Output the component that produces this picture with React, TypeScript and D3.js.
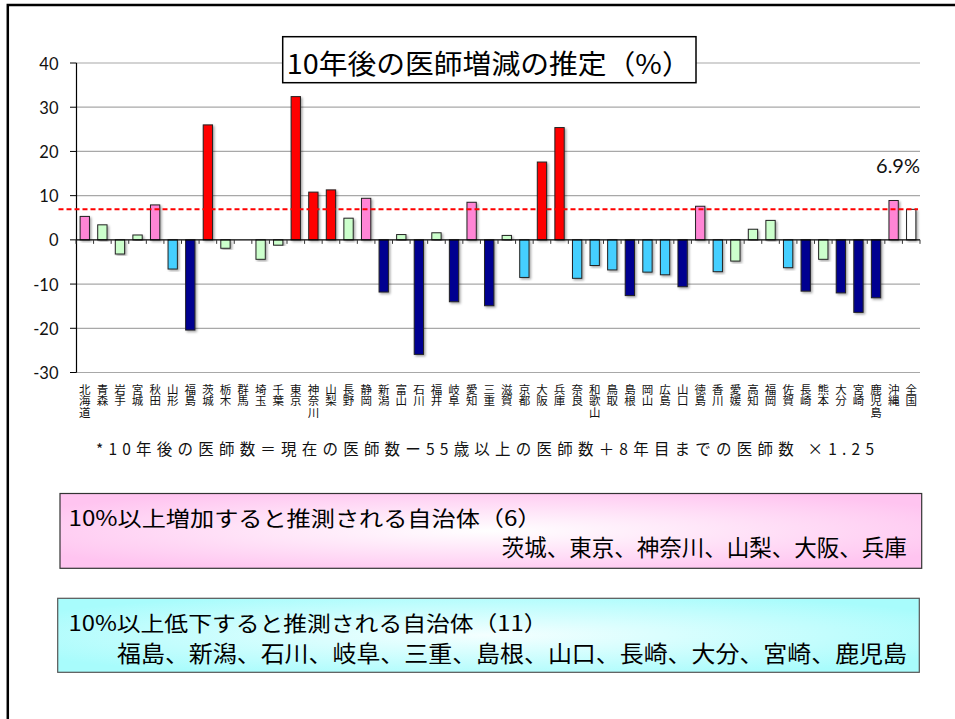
import React from "react";
import * as d3 from "d3";

const prefectures = ["北海道","青森","岩手","宮城","秋田","山形","福島","茨城","栃木","群馬","埼玉","千葉","東京","神奈川","山梨","長野","静岡","新潟","富山","石川","福井","岐阜","愛知","三重","滋賀","京都","大阪","兵庫","奈良","和歌山","鳥取","島根","岡山","広島","山口","徳島","香川","愛媛","高知","福岡","佐賀","長崎","熊本","大分","宮崎","鹿児島","沖縄","全国"];
const changeRates = [5.3,3.4,-3.2,1.1,7.9,-6.6,-20.4,26.0,-1.9,0,-4.4,-1.2,32.4,10.8,11.3,4.9,9.4,-11.8,1.2,-25.9,1.6,-14.0,8.5,-14.9,1.0,-8.5,17.6,25.4,-8.7,-5.8,-6.8,-12.6,-7.3,-7.9,-10.6,7.6,-7.2,-4.8,2.4,4.4,-6.3,-11.6,-4.4,-12.0,-16.4,-13.1,8.9,6.9];
const yTicks = [-30,-20,-10,0,10,20,30,40];
const nationalAverage = 6.9;
const nationalLabel = "6.9%";
const chartTitle = "10年後の医師増減の推定（%）";
const footnote = "*10年後の医師数＝現在の医師数ー55歳以上の医師数＋8年目までの医師数 ×1.25";
const increaseHeader = "10%以上増加すると推測される自治体（6）";
const increaseList = "茨城、東京、神奈川、山梨、大阪、兵庫";
const decreaseHeader = "10%以上低下すると推測される自治体（11）";
const decreaseList = "福島、新潟、石川、岐阜、三重、島根、山口、長崎、大分、宮崎、鹿児島";

const CJK = "'Noto Sans CJK JP', 'Noto Sans', sans-serif";
const LATIN = "Lato, 'Noto Sans', sans-serif";

function barColor(v: number, i: number) {
  if (i === prefectures.length - 1) return "#FFFFFF";
  if (v >= 10) return "#FF0000";
  if (v >= 5) return "#FF85D5";
  if (v > -5) return "#CCFFCC";
  if (v > -10) return "#45CFFF";
  return "#000090";
}

export default function App() {
  const x = d3.scaleBand<string>().domain(prefectures).range([76, 920]).paddingInner(0.47).paddingOuter(0.235);
  const y = d3.scaleLinear().domain([-30, 40]).range([372.5, 63]);
  const step = x.step();
  const y0 = y(0);

  return (
    <svg width={955} height={719} style={{ position: "fixed", left: 0, top: 0, background: "#fff" }}>
      <defs>
        <filter id="shadow" x="-50%" y="-10%" width="200%" height="120%">
          <feDropShadow dx="1.5" dy="1.5" stdDeviation="0.8" floodColor="#000" floodOpacity="0.35" />
        </filter>
        <radialGradient id="pinkGrad" cx="0.5" cy="0.5" r="0.6">
          <stop offset="0" stopColor="#FFFFFF" />
          <stop offset="1" stopColor="#FFC4F0" />
        </radialGradient>
        <radialGradient id="cyanGrad" cx="0.5" cy="0.5" r="0.6">
          <stop offset="0" stopColor="#F4FFFF" />
          <stop offset="1" stopColor="#A8FCFC" />
        </radialGradient>
      </defs>

      {/* outer frame */}
      <rect x={7.8} y={5} width={1000} height={1000} fill="none" stroke="#000" strokeWidth={2.5} />

      {/* gridlines */}
      {yTicks.filter((t) => t !== 0).map((t) => (
        <line key={"g" + t} x1={76.5} x2={920} y1={y(t)} y2={y(t)} stroke="#A8A8A8" strokeWidth={1.2} />
      ))}

      {/* y axis */}
      <line x1={76.5} x2={76.5} y1={y(40)} y2={y(-30)} stroke="#000" strokeWidth={1.2} />
      {yTicks.map((t) => (
        <g key={"t" + t}>
          <line x1={70} x2={76.5} y1={y(t)} y2={y(t)} stroke="#000" strokeWidth={1} />
          <text x={58.5} y={y(t) + 6.5} textAnchor="end" fontFamily={LATIN} fontSize={16.5} fill="#111">{t}</text>
        </g>
      ))}

      {/* bars */}
      {changeRates.map((v, i) => {
        const name = prefectures[i];
        const top = Math.min(y(v), y0);
        const h = Math.abs(y(v) - y0);
        if (h < 0.01) return null;
        return (
          <rect key={"b" + i} x={x(name)} y={top} width={x.bandwidth()} height={h}
            fill={barColor(v, i)} stroke="#222" strokeWidth={1} filter="url(#shadow)" />
        );
      })}

      {/* zero line & category ticks */}
      <line x1={76.5} x2={920} y1={y0} y2={y0} stroke="#000" strokeWidth={1.3} />
      {d3.range(prefectures.length + 1).map((k) => (
        <line key={"ct" + k} x1={76 + k * step} x2={76 + k * step} y1={y0} y2={y0 + 4} stroke="#333" strokeWidth={1} />
      ))}

      {/* national average dashed line */}
      <line x1={58.5} x2={918} y1={y(nationalAverage)} y2={y(nationalAverage)} stroke="#FF0000" strokeWidth={2} strokeDasharray="5,3" />
      <text x={920} y={173} textAnchor="end" fontFamily={LATIN} fontSize={20} fill="#111">{nationalLabel}</text>

      {/* x labels: vertical stacked characters */}
      {prefectures.map((name) => {
        const cx = (x(name) as number) + x.bandwidth() / 2;
        return (
          <text key={"xl" + name} fontFamily={CJK} fontSize={11.5} fill="#111" textAnchor="middle">
            {Array.from(name).map((ch, j) => (
              <tspan key={j} x={cx} y={393.5 + j * 11.7}>{ch}</tspan>
            ))}
          </text>
        );
      })}

      {/* title */}
      <rect x={282.7} y={36.7} width={413.3} height={46} fill="#fff" stroke="#000" strokeWidth={1.5} />
      <text x={286.7} y={74} fontFamily={CJK} fontSize={27} fill="#000" textLength={404} lengthAdjust="spacingAndGlyphs">{chartTitle}</text>

      {/* footnote */}
      <text x={96} y={455} fontFamily={CJK} fontSize={15.5} fill="#111" textLength={778} lengthAdjust="spacing">{footnote}</text>

      {/* increase box */}
      <rect x={60} y={493.5} width={861.7} height={74.8} fill="url(#pinkGrad)" stroke="#333" strokeWidth={1.2} />
      <text x={68.5} y={526} fontFamily={CJK} fontSize={21} fill="#000" textLength={473} lengthAdjust="spacingAndGlyphs">{increaseHeader}</text>
      <text x={906.7} y={556} textAnchor="end" fontFamily={CJK} fontSize={22.5} fill="#000">{increaseList}</text>

      {/* decrease box */}
      <rect x={57.7} y={598.3} width={861.6} height={74} fill="url(#cyanGrad)" stroke="#555" strokeWidth={1.2} />
      <text x={68.5} y={630.5} fontFamily={CJK} fontSize={21} fill="#000" textLength={479} lengthAdjust="spacingAndGlyphs">{decreaseHeader}</text>
      <text x={117} y={662} fontFamily={CJK} fontSize={22.5} fill="#000" textLength={790} lengthAdjust="spacingAndGlyphs">{decreaseList}</text>
    </svg>
  );
}
